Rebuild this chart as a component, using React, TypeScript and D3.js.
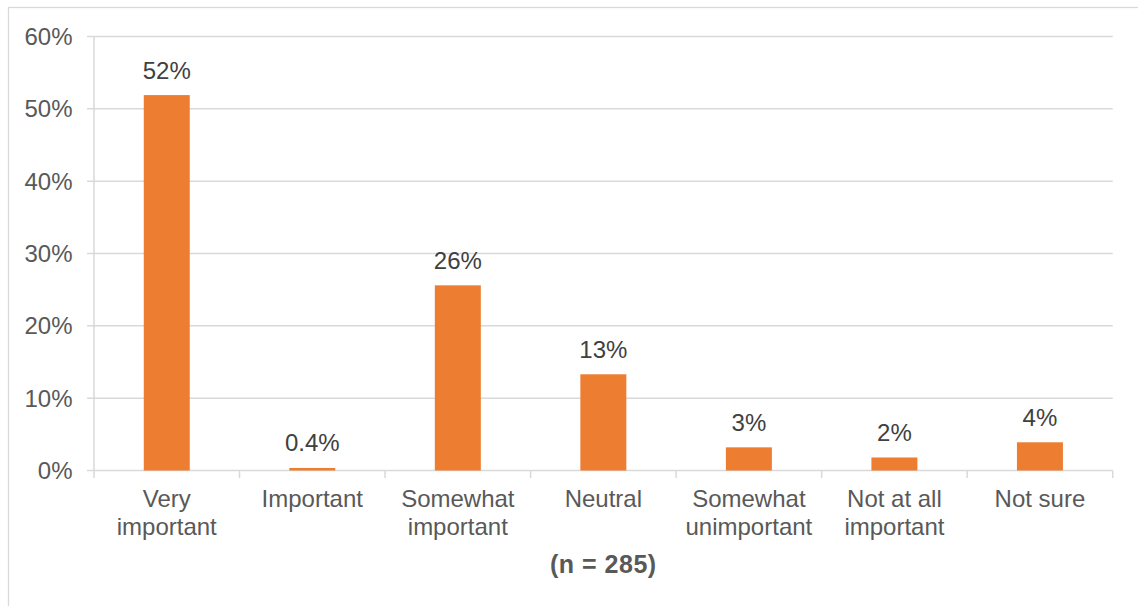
import React from "react";
import * as d3 from "d3";

// Survey responses (n = 285)
const categories = [
  "Very important",
  "Important",
  "Somewhat important",
  "Neutral",
  "Somewhat unimportant",
  "Not at all important",
  "Not sure",
];
const shares = [0.519, 0.0035, 0.256, 0.133, 0.032, 0.018, 0.039];
const yTicks = [0, 0.1, 0.2, 0.3, 0.4, 0.5, 0.6];
const sampleNote = "(n = 285)";

const W = 1138;
const H = 606;
const FONT = "'Liberation Sans', Arial, sans-serif";
const ORANGE = "#ED7D31";
const GRID = "#d9d9d9";
const TEXT = "#595959";
const LABEL = "#404040";
const FS = 24;

const plot = { left: 94, right: 1112.7, top: 36.5, bottom: 470.5 };

const pctLabel = (v: number) =>
  v < 0.01 ? d3.format(".1%")(v) : d3.format(".0%")(v);

let ctx: CanvasRenderingContext2D | null = null;
function textWidth(s: string): number {
  if (!ctx) ctx = document.createElement("canvas").getContext("2d");
  if (!ctx) return s.length * FS * 0.5;
  ctx.font = `${FS}px ${FONT}`;
  return ctx.measureText(s).width;
}

function wrap(label: string, maxW: number): string[] {
  const words = label.split(" ");
  const lines: string[] = [];
  let cur = "";
  for (const w of words) {
    const next = cur ? cur + " " + w : w;
    if (cur && textWidth(next) > maxW) {
      lines.push(cur);
      cur = w;
    } else {
      cur = next;
    }
  }
  if (cur) lines.push(cur);
  return lines;
}

export default function App() {
  const x = d3
    .scaleBand<string>()
    .domain(categories)
    .range([plot.left, plot.right])
    .paddingInner(0.684)
    .paddingOuter(0.342);
  const y = d3
    .scaleLinear()
    .domain([0, 0.6])
    .range([plot.bottom, plot.top]);

  const step = x.step();
  const bw = x.bandwidth();
  const boundaries = d3.range(categories.length + 1).map((i) => plot.left + i * step);

  return (
    <svg
      width={W}
      height={H}
      style={{ position: "absolute", left: 0, top: 0, background: "#fff" }}
      fontFamily={FONT}
    >
      {/* chart frame */}
      <rect x={8.5} y={7.5} width={W + 20} height={H + 20} fill="#fff" stroke={GRID} strokeWidth={1.3} />

      {/* gridlines and y-axis labels */}
      {yTicks.map((t) => (
        <g key={t}>
          <line
            x1={plot.left - 7}
            x2={plot.right}
            y1={y(t)}
            y2={y(t)}
            stroke={GRID}
            strokeWidth={1.5}
          />
          <text
            x={72.5}
            y={y(t)}
            dy="0.36em"
            textAnchor="end"
            fontSize={FS}
            fill={TEXT}
          >
            {d3.format(".0%")(t)}
          </text>
        </g>
      ))}

      {/* y axis line */}
      <line x1={plot.left} x2={plot.left} y1={plot.top} y2={plot.bottom} stroke={GRID} strokeWidth={1.5} />

      {/* category tick marks */}
      {boundaries.map((bx, i) => (
        <line key={i} x1={bx} x2={bx} y1={plot.bottom} y2={plot.bottom + 7.5} stroke={GRID} strokeWidth={1.5} />
      ))}

      {/* bars */}
      {categories.map((c, i) => (
        <rect
          key={c}
          x={x(c)}
          y={y(shares[i])}
          width={bw}
          height={plot.bottom - y(shares[i])}
          fill={ORANGE}
        />
      ))}

      {/* value labels */}
      {categories.map((c, i) => (
        <text
          key={c}
          x={(x(c) as number) + bw / 2}
          y={y(shares[i]) - 16.5}
          textAnchor="middle"
          fontSize={FS}
          fill={LABEL}
        >
          {pctLabel(shares[i])}
        </text>
      ))}

      {/* category labels */}
      {categories.map((c) => {
        const lines = wrap(c, step - 4);
        const cx = (x(c) as number) + bw / 2;
        return (
          <text key={c} textAnchor="middle" fontSize={FS} fill={TEXT}>
            {lines.map((ln, j) => (
              <tspan key={j} x={cx} y={507 + j * 27.8}>
                {ln}
              </tspan>
            ))}
          </text>
        );
      })}

      {/* sample size note */}
      <text
        x={(plot.left + plot.right) / 2}
        y={573}
        textAnchor="middle"
        fontSize={25}
        fontWeight="bold"
        letterSpacing={0.5}
        fill={TEXT}
      >
        {sampleNote}
      </text>
    </svg>
  );
}
